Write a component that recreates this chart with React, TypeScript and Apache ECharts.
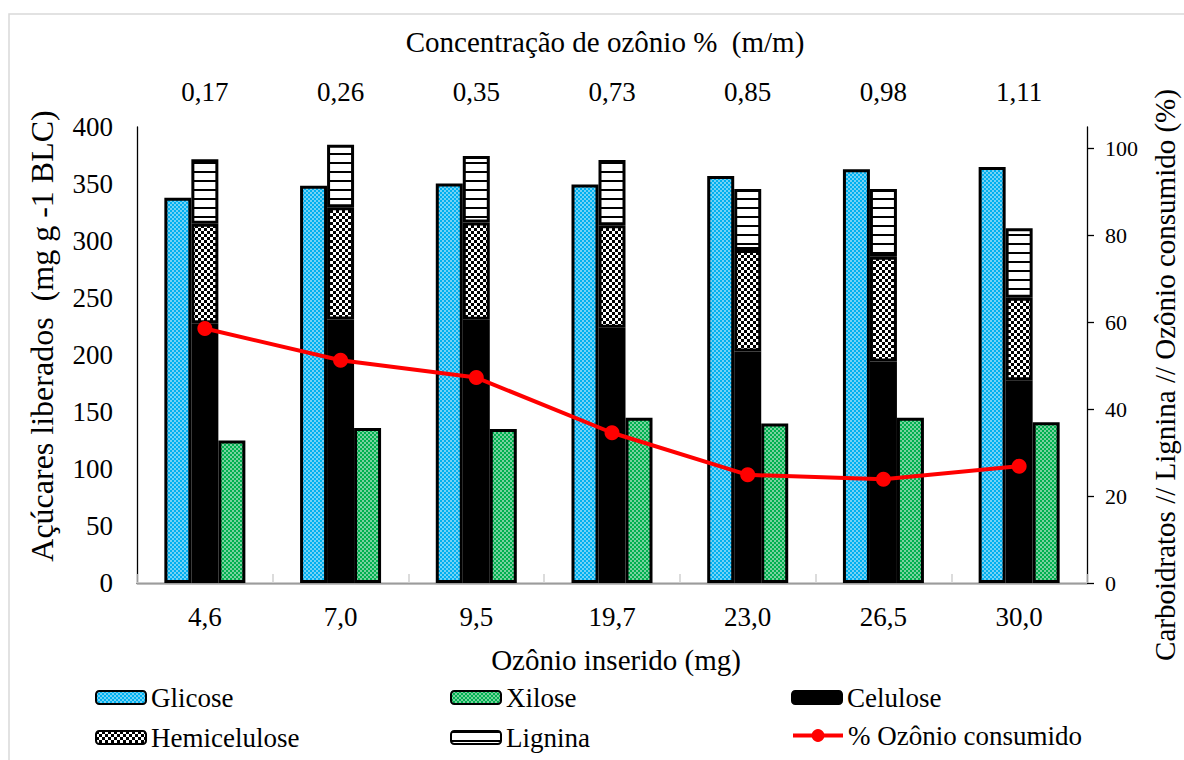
import React, { useEffect, useRef } from "react";
import * as echarts from "echarts";

const ozonioInserido = ["4,6", "7,0", "9,5", "19,7", "23,0", "26,5", "30,0"];
const concentracao = ["0,17", "0,26", "0,35", "0,73", "0,85", "0,98", "1,11"];
const glicose = [338, 348.5, 350.5, 349.5, 357, 363, 365];
const xilose = [125, 136, 135, 145, 140, 145, 141];
const celulose = [59.8, 60.7, 60.6, 58.8, 53.3, 51.0, 46.7];
const hemicelulose = [22.9, 25.8, 22.4, 23.6, 23.4, 24.1, 19.0];
const lignina = [14.9, 14.4, 15.3, 15.0, 14.0, 15.6, 16.0];
const ozonioConsumido = [58.6, 51.3, 47.3, 34.6, 24.9, 23.9, 26.9];
const leftTicks = [0, 50, 100, 150, 200, 250, 300, 350, 400];
const rightTicks = [0, 20, 40, 60, 80, 100];

const FONT = "Liberation Serif";

function makePattern(w: number, h: number, draw: (ctx: CanvasRenderingContext2D) => void) {
  const c = document.createElement("canvas");
  c.width = w;
  c.height = h;
  const ctx = c.getContext("2d") as CanvasRenderingContext2D;
  draw(ctx);
  return { image: c, repeat: "repeat" } as any;
}

export default function App() {
  const ref = useRef<HTMLDivElement>(null);
  useEffect(() => {
    if (!ref.current) return;
    const chart = echarts.init(ref.current, undefined, { renderer: "svg" });

    const checker = (fg: string, bg: string) =>
      makePattern(4, 4, (ctx) => {
        ctx.fillStyle = bg;
        ctx.fillRect(0, 0, 4, 4);
        ctx.fillStyle = fg;
        ctx.fillRect(0, 0, 2, 2);
        ctx.fillRect(2, 2, 2, 2);
      });
    const bluePat = checker("#00B0F0", "#74D2F5");
    const greenPat = checker("#00B050", "#78D29E");
    const hemiPat = makePattern(6, 6, (ctx) => {
      ctx.fillStyle = "#ffffff";
      ctx.fillRect(0, 0, 6, 6);
      ctx.fillStyle = "#000000";
      ctx.fillRect(0, 0, 3, 3);
      ctx.fillRect(3, 3, 3, 3);
    });
    const ligPat = makePattern(8, 9, (ctx) => {
      ctx.fillStyle = "#ffffff";
      ctx.fillRect(0, 0, 8, 9);
      ctx.fillStyle = "#000000";
      ctx.fillRect(0, 0, 8, 2);
    });

    const barBorder = { borderColor: "#000", borderWidth: 3 };
    const legendCommon = {
      itemWidth: 50,
      itemHeight: 13,
      padding: 0,
      orient: "horizontal",
      textStyle: { fontFamily: FONT, fontSize: 27, color: "#000" },
    };

    chart.setOption({
      animation: false,
      backgroundColor: "#fff",
      textStyle: { fontFamily: FONT },
      grid: { left: 137, right: 97, top: 127, bottom: 177, containLabel: false, outerBoundsMode: "none" },
      legend: [
        { ...legendCommon, data: ["Glicose"], left: 95, top: 684 },
        { ...legendCommon, data: ["Xilose"], left: 450, top: 684 },
        { ...legendCommon, data: ["Celulose"], left: 791, top: 684 },
        { ...legendCommon, data: ["Hemicelulose"], left: 95, top: 724 },
        { ...legendCommon, data: ["Lignina"], left: 450, top: 724 },
        {
          ...legendCommon,
          itemHeight: 16,
          lineStyle: { width: 4, color: "#FF0000" },
          data: ["% Ozônio consumido"],
          left: 791,
          top: 722,
        },
      ],
      xAxis: [
        {
          type: "category",
          data: ozonioInserido,
          position: "bottom",
          axisLine: { lineStyle: { color: "#000", width: 1.3 } },
          axisTick: { show: false },
          axisLabel: { fontFamily: FONT, fontSize: 27, color: "#000", margin: 20 },
        },
        {
          type: "category",
          data: concentracao,
          position: "top",
          axisLine: { lineStyle: { color: "#d0d0d0", width: 1.5 } },
          axisTick: { show: true, length: 9, lineStyle: { color: "#d0d0d0", width: 1.5 } },
          axisLabel: { fontFamily: FONT, fontSize: 27, color: "#000", margin: 22 },
        },
      ],
      yAxis: [
        {
          type: "value",
          min: 0,
          max: 400,
          interval: 50,
          position: "left",
          axisLine: { show: true, lineStyle: { color: "#000", width: 1.3 } },
          axisTick: { show: false },
          splitLine: { show: false },
          axisLabel: {
            fontFamily: FONT,
            fontSize: 27,
            color: "#000",
            margin: 24,
            customValues: leftTicks,
          },
        },
        {
          type: "value",
          min: 0,
          max: 105,
          interval: 20,
          position: "right",
          axisLine: { show: true, lineStyle: { color: "#000", width: 1.3 } },
          axisTick: { show: true, length: 7, lineStyle: { color: "#000", width: 1.3 }, customValues: rightTicks },
          splitLine: { show: false },
          axisLabel: {
            fontFamily: FONT,
            fontSize: 22,
            color: "#000",
            margin: 18,
            customValues: rightTicks,
          },
        },
      ],
      series: [
        {
          name: "Glicose",
          type: "bar",
          data: glicose,
          yAxisIndex: 0,
          barWidth: 27,
          barGap: "0%",
          itemStyle: { color: bluePat, ...barBorder },
        },
        {
          name: "Celulose",
          type: "bar",
          stack: "comp",
          data: celulose,
          yAxisIndex: 1,
          barWidth: 27,
          barGap: "0%",
          itemStyle: { color: "#000", ...barBorder },
        },
        {
          name: "Hemicelulose",
          type: "bar",
          stack: "comp",
          data: hemicelulose,
          yAxisIndex: 1,
          barWidth: 27,
          barGap: "0%",
          itemStyle: { color: hemiPat, ...barBorder },
        },
        {
          name: "Lignina",
          type: "bar",
          stack: "comp",
          data: lignina,
          yAxisIndex: 1,
          barWidth: 27,
          barGap: "0%",
          itemStyle: { color: ligPat, ...barBorder },
        },
        {
          name: "Xilose",
          type: "bar",
          data: xilose,
          yAxisIndex: 0,
          barWidth: 27,
          barGap: "0%",
          itemStyle: { color: greenPat, ...barBorder },
        },
        {
          name: "% Ozônio consumido",
          type: "line",
          data: ozonioConsumido,
          yAxisIndex: 1,
          symbol: "circle",
          symbolSize: 15,
          z: 10,
          lineStyle: { color: "#FF0000", width: 4 },
          itemStyle: { color: "#FF0000" },
        },
      ],
      graphic: [
        {
          type: "rect",
          shape: { x: 9, y: 14, width: 1200, height: 800 },
          style: { fill: "none", stroke: "#d9d9d9", lineWidth: 1.5 },
          silent: true,
          z: -10,
        },
        {
          type: "text",
          x: 605,
          y: 42,
          style: {
            text: "Concentração de ozônio %  (m/m)",
            fontFamily: FONT,
            fontSize: 29,
            fill: "#000",
            align: "center",
            verticalAlign: "middle",
          },
        },
        {
          type: "text",
          x: 616,
          y: 660,
          style: {
            text: "Ozônio inserido (mg)",
            fontFamily: FONT,
            fontSize: 29,
            fill: "#000",
            align: "center",
            verticalAlign: "middle",
          },
        },
        {
          type: "text",
          x: 42,
          y: 336,
          rotation: Math.PI / 2,
          style: {
            text: "Açúcares liberados  (mg g -1 BLC)",
            fontFamily: FONT,
            fontSize: 32,
            fill: "#000",
            align: "center",
            verticalAlign: "middle",
          },
        },
        {
          type: "text",
          x: 1165,
          y: 375,
          rotation: Math.PI / 2,
          style: {
            text: "Carboidratos // Lignina // Ozônio consumido (%)",
            fontFamily: FONT,
            fontSize: 29,
            fill: "#000",
            align: "center",
            verticalAlign: "middle",
          },
        },
      ],
    });
    return () => chart.dispose();
  }, []);

  return (
    <div
      ref={ref}
      style={{ position: "fixed", left: 0, top: 0, width: 1184, height: 760 }}
    />
  );
}
